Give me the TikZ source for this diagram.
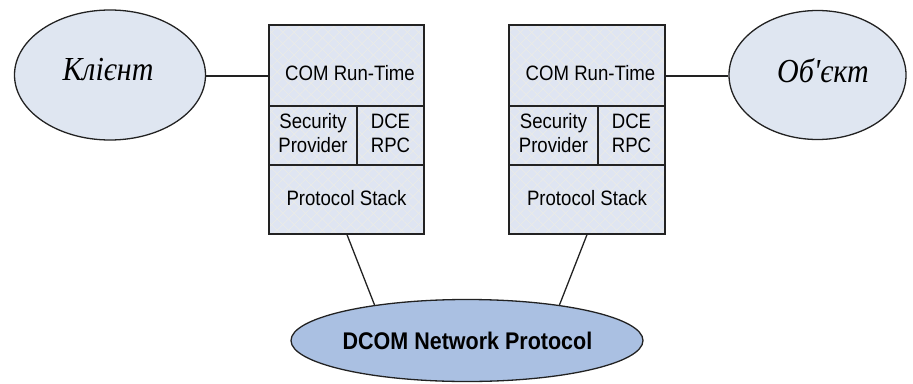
\documentclass[tikz,border=0pt]{standalone}
\usepackage{fontspec}
\usepackage{graphicx}
\setmainfont{Liberation Serif}
\setsansfont{Liberation Sans}
\newfontfamily\ovalfont[Script=Cyrillic,Language=Russian]{Liberation Serif}
\usetikzlibrary{shapes.geometric,patterns.meta}

\definecolor{cellfill}{HTML}{DFE5F2}
\definecolor{hatchcol}{HTML}{EAEBE8}
\definecolor{ovalfill}{HTML}{DFE6F1}
\definecolor{netfill}{HTML}{AAC0E2}
\definecolor{edgecol}{HTML}{222222}

% slightly tall lettering
\newcommand\tallt[1]{\scalebox{1}[1.12]{#1}}

\begin{document}
\begin{tikzpicture}[x=1pt,y=-1pt,
  cell/.style={draw=edgecol, line width=1.3pt, inner sep=0pt,
    preaction={fill=cellfill},
    preaction={pattern={Lines[angle=45,distance=8pt,line width=0.7pt]}, pattern color=hatchcol},
    preaction={pattern={Lines[angle=-45,distance=8pt,line width=0.7pt]}, pattern color=hatchcol}},
  celltext/.style={font=\sffamily\fontsize{18.6}{22.3}\selectfont, text=black, inner sep=0pt, align=center},
  oval/.style={ellipse, draw=edgecol, line width=1.3pt, fill=ovalfill, inner sep=0pt},
  ovaltext/.style={font=\ovalfont\itshape\fontsize{30}{34}\selectfont, inner sep=0pt},
  link/.style={draw=edgecol, line width=1.3pt}]

\useasboundingbox (0,0) rectangle (913,383);

% client side stack
\node[cell, minimum width=155pt, minimum height=81pt] (rtL) at (346.5,65.5) {};
\node[cell, minimum width=88pt,  minimum height=59pt] (spL) at (313,135.5) {};
\node[cell, minimum width=67pt,  minimum height=59pt] (dcL) at (390.5,135.5) {};
\node[cell, minimum width=155pt, minimum height=69pt] (psL) at (346.5,199.5) {};

% object side stack
\node[cell, minimum width=156pt, minimum height=81pt] (rtR) at (587,65.5) {};
\node[cell, minimum width=89pt,  minimum height=59pt] (spR) at (553.5,135.5) {};
\node[cell, minimum width=67pt,  minimum height=59pt] (dcR) at (631.5,135.5) {};
\node[cell, minimum width=156pt, minimum height=69pt] (psR) at (587,199.5) {};

% cell labels
\node[celltext] (rtLt) at ([xshift=3.5pt,yshift=-7.5pt]rtL.center) {\tallt{COM Run-Time}};
\node[celltext] (spLt) at (spL.center) {\tallt{\begin{tabular}{@{}c@{}}Security\\Provider\end{tabular}}};
\node[celltext] (dcLt) at (dcL.center) {\tallt{\begin{tabular}{@{}c@{}}DCE\\RPC\end{tabular}}};
\node[celltext] (psLt) at ([yshift=1pt]psL.center) {\tallt{Protocol Stack}};

\node[celltext] (rtRt) at ([xshift=3.5pt,yshift=-7.5pt]rtR.center) {\tallt{COM Run-Time}};
\node[celltext] (spRt) at (spR.center) {\tallt{\begin{tabular}{@{}c@{}}Security\\Provider\end{tabular}}};
\node[celltext] (dcRt) at (dcR.center) {\tallt{\begin{tabular}{@{}c@{}}DCE\\RPC\end{tabular}}};
\node[celltext] (psRt) at ([yshift=1pt]psR.center) {\tallt{Protocol Stack}};

% client and object ovals
\node[oval, minimum width=191pt, minimum height=130pt] (kl) at (110,75) {};
\node[ovaltext] (klt) at (108,70) {\tallt{Клієнт}};
\node[oval, minimum width=177pt, minimum height=129pt] (ob) at (817.5,75) {};
\node[ovaltext] (obt) at (823,71) {\tallt{Об'єкт}};

% network protocol oval
\node[oval, fill=netfill, minimum width=352pt, minimum height=82pt] (net) at (467,340.5) {};
\node[font=\sffamily\bfseries\fontsize{21.5}{24}\selectfont, inner sep=0pt] (nett) at (467.5,341) {\tallt{DCOM Network Protocol}};

% connectors
\draw[link] ([yshift=-1pt]kl.east) -- ([yshift=-1pt]kl.east -| rtL.west);
\draw[link] ([yshift=-1pt]ob.west) -- ([yshift=-1pt]ob.west -| rtR.east);
\draw[link] ([xshift=0.5pt]psL.south) -- (net.159);
\draw[link] (psR.south) -- (net.21);

\end{tikzpicture}
\end{document}
